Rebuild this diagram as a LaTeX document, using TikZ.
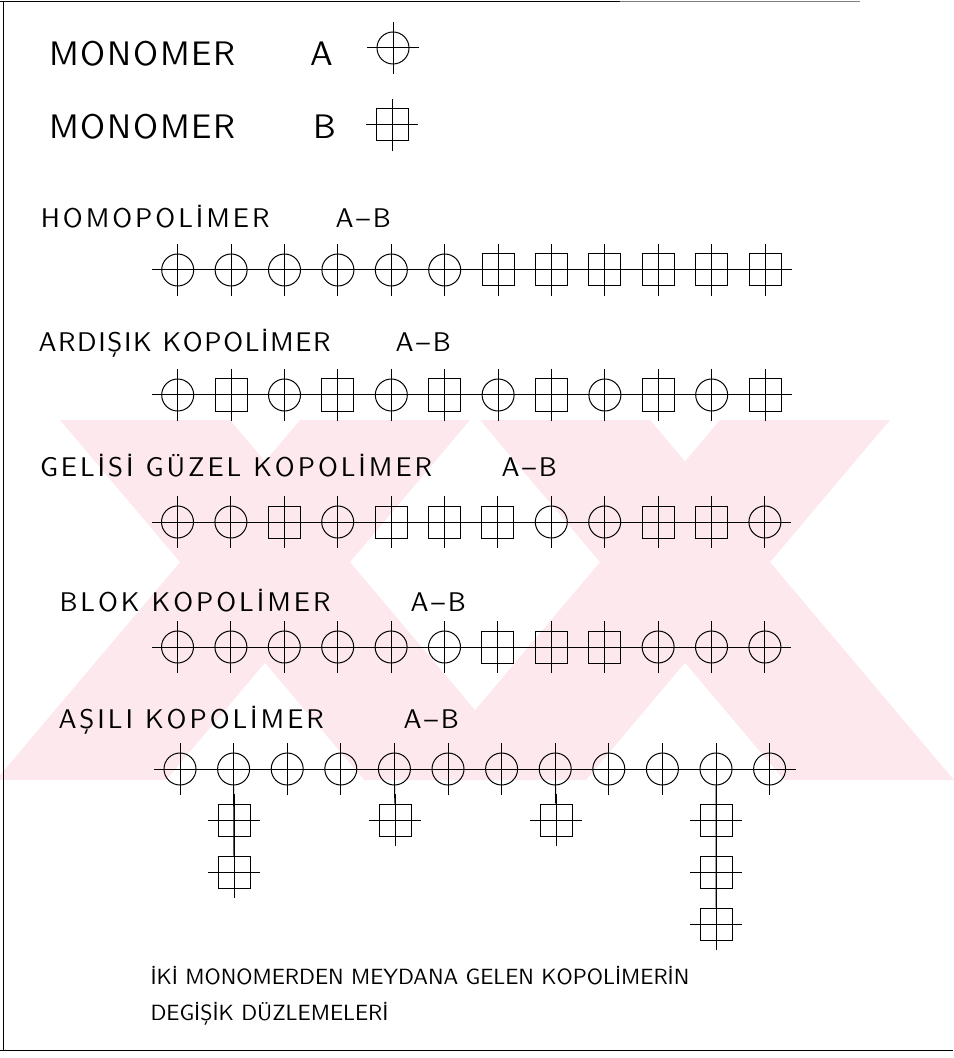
\documentclass[tikz,border=0pt]{standalone}
\usepackage{fontspec}
\newfontfamily\cadfont{lmsans10-regular}[Extension=.otf]
\usepackage{tikz}
\definecolor{markpink}{RGB}{253,232,237}

% one monomer: type (A/B), name, x, y
\newcommand{\monomer}[4]{%
  \node [unit#1] (#2) at ({#3},{#4}) {};
  \draw ([xshift=-13pt]#2.center) -- ([xshift=13pt]#2.center);
  \draw ([yshift=-13pt]#2.center) -- ([yshift=13pt]#2.center);
}

\begin{document}
\begin{tikzpicture}[
    x=0.5pt, y=-0.5pt,
    line width=0.5pt,
    unitA/.style={draw, circle, minimum size=16pt, inner sep=0pt},
    unitB/.style={draw, rectangle, minimum size=16pt, inner sep=0pt},
    title/.style={font=\cadfont\fontsize{17}{20}\selectfont\addfontfeature{LetterSpace=5}, anchor=base west, inner sep=0pt},
    rowtag/.style={font=\cadfont\fontsize{13.5}{16}\selectfont\addfontfeature{LetterSpace=#1}, anchor=base west, inner sep=0pt},
    rowtag/.default=11,
    note/.style={font=\cadfont\fontsize{11}{13}\selectfont, anchor=base west, inner sep=0pt},
  ]
  \useasboundingbox (0,0) rectangle (953,1058);

  % watermark
  \begin{scope}
    \clip (0,420) rectangle (953,780);
    \foreach \cx in {265,685} {
      \fill [markpink] (\cx-205,420) -- (\cx-35,420) -- (\cx+269,780) -- (\cx+99,780) -- cycle;
      \fill [markpink] (\cx+35,420) -- (\cx+205,420) -- (\cx-99,780) -- (\cx-269,780) -- cycle;
    }
  \end{scope}

  % frame
  \draw (3,2) -- (3,1050);
  \draw (0,2) -- (620,2);
  \draw [gray] (620,2) -- (860,2);
  \draw (0,1050) -- (953,1050);

  % legend
  \node [title] (monA) at (49,66) {MONOMER};
  \node [title] (monAl) at (310,66) {A};
  \monomer{A}{symA}{393}{48}
  \node [title] (monB) at (49,139) {MONOMER};
  \node [title] (monBl) at (313,139) {B};
  \monomer{B}{symB}{392}{125}

  % homopolimer
  \node [rowtag, anchor=base east] (homoT) at (270,228) {HOMOPOLİMER};
  \node [rowtag] (homoAB) at (335,228) {A–B};
  \coordinate (homoL) at (152,270);
  \coordinate (homoR) at (792,270);
  \draw (homoL) -- (homoR);
  \foreach \t [count=\i from 0] in {A,A,A,A,A,A,B,B,B,B,B,B}
    {\monomer{\t}{homo\i}{177.7+53.4*\i}{270}}

  % ardisik
  \node [rowtag=6] (ardT) at (38,352) {ARDIŞIK KOPOLİMER};
  \node [rowtag] (ardAB) at (395,352) {A–B};
  \coordinate (ardL) at (152,395);
  \coordinate (ardR) at (792,395);
  \draw (ardL) -- (ardR);
  \foreach \t [count=\i from 0] in {A,B,A,B,A,B,A,B,A,B,A,B}
    {\monomer{\t}{ard\i}{177.7+53.4*\i}{395}}

  % gelisi guzel
  \node [rowtag] (ggT) at (39.5,476) {GELİSİ GÜZEL KOPOLİMER};
  \node [rowtag] (ggAB) at (501,476) {A–B};
  \coordinate (ggL) at (152,522);
  \coordinate (ggR) at (790,522);
  \draw (ggL) -- (ggR);
  \foreach \t [count=\i from 0] in {A,A,B,A,B,B,B,A,A,B,B,A}
    {\monomer{\t}{gg\i}{177.5+53.4*\i}{522}}

  % blok
  \node [rowtag] (blokT) at (59,611) {BLOK KOPOLİMER};
  \node [rowtag] (blokAB) at (410,611) {A–B};
  \coordinate (blokL) at (152,647);
  \coordinate (blokR) at (790,647);
  \draw (blokL) -- (blokR);
  \foreach \t [count=\i from 0] in {A,A,A,A,A,A,B,B,B,A,A,A}
    {\monomer{\t}{blok\i}{177.5+53.4*\i}{647}}

  % asili
  \node [rowtag] (asT) at (58,728) {AŞILI KOPOLİMER};
  \node [rowtag] (asAB) at (403,728) {A–B};
  \coordinate (asL) at (155,769);
  \coordinate (asR) at (795,769);
  \draw (asL) -- (asR);
  \foreach \i in {0,...,11}
    {\monomer{A}{as\i}{180+53.6*\i}{769}}
  % grafts
  \monomer{B}{g1a}{234}{820}
  \monomer{B}{g1b}{234}{872}
  \draw (as1) -- (g1b);
  \monomer{B}{g4a}{395}{820}
  \draw (as4) -- (g4a);
  \monomer{B}{g7a}{556}{820}
  \draw (as7) -- (g7a);
  \monomer{B}{g10a}{716}{820}
  \monomer{B}{g10b}{716}{872}
  \monomer{B}{g10c}{716}{924}
  \draw (as10) -- (g10c);

  % caption
  \node [note] (cap1) at (150,984) {İKİ MONOMERDEN MEYDANA GELEN KOPOLİMERİN};
  \node [note] (cap2) at (150,1020) {DEGİŞİK DÜZLEMELERİ};
\end{tikzpicture}
\end{document}
